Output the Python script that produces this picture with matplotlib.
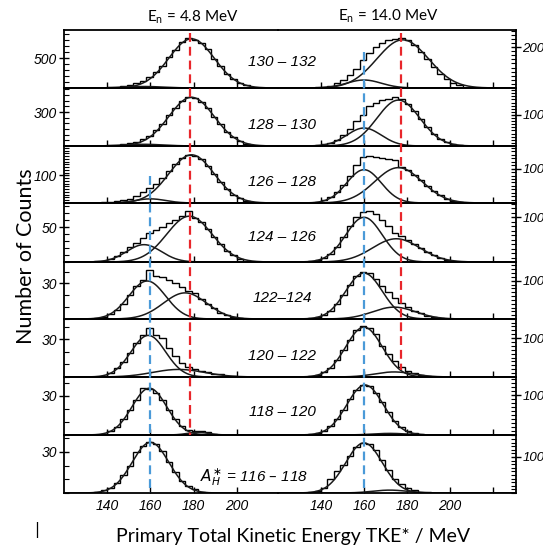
import numpy as np
import matplotlib
matplotlib.use("Agg")
import matplotlib.pyplot as plt
from matplotlib import transforms
from matplotlib.lines import Line2D
from matplotlib.ticker import FixedLocator, MultipleLocator

W, H = 543, 553

# histogram bins, 3 MeV wide
edges = np.arange(131, 207, 3)

row_labels = ["130 – 132", "128 – 130", "126 – 128", "124 – 126",
              "122–124", "120 – 122", "118 – 120", r"$A_H^{\ast}$ = 116 – 118"]

# En = 4.8 MeV (left column), counts per bin, top row first
hist_48 = [
    [2, 0, 5, 9, 18, 30, 50, 80, 120, 180, 265, 370, 515, 640, 760, 830, 805, 745, 645, 490, 360, 235, 150, 85, 45],
    [0, 1, 2, 5, 8, 14, 24, 38, 60, 92, 140, 198, 270, 335, 398, 432, 425, 390, 335, 258, 190, 128, 78, 45, 22],
    [0, 1, 2, 3, 6, 10, 16, 26, 40, 55, 70, 90, 115, 142, 165, 176, 172, 158, 135, 104, 78, 50, 30, 17, 8],
    [0, 1, 2, 5, 9, 15, 21, 28, 35, 42, 46, 51, 56, 60, 66, 74, 64, 57, 47, 36, 26, 16, 10, 5, 2],
    [0, 1, 2, 4, 8, 13, 20, 28, 33, 41, 36, 35, 33, 30, 27, 24, 22, 17, 13, 9, 5, 3, 2, 1, 0],
    [0, 0, 1, 3, 7, 12, 19, 27, 33, 39, 33, 31, 23, 17, 11, 8, 6, 5, 4, 2, 2, 1, 1, 0, 0],
    [0, 0, 1, 3, 6, 12, 19, 27, 36, 35, 32, 27, 19, 12, 7, 4, 3, 3, 2, 1, 0, 0, 0, 0, 0],
    [0, 1, 2, 4, 7, 13, 20, 30, 34, 37, 36, 31, 23, 15, 9, 5, 3, 1, 0, 0, 0, 0, 0, 0, 0],
]
# En = 14.0 MeV (right column)
hist_14 = [
    [0, 1, 3, 6, 12, 22, 38, 62, 95, 135, 170, 200, 220, 232, 240, 242, 232, 210, 178, 140, 102, 70, 44, 26, 14],
    [0, 1, 2, 5, 10, 20, 35, 55, 80, 100, 128, 138, 148, 152, 158, 150, 137, 112, 86, 60, 38, 22, 12, 6, 2],
    [0, 1, 3, 8, 17, 32, 52, 80, 110, 135, 137, 135, 132, 128, 126, 104, 96, 82, 66, 49, 34, 22, 13, 7, 3],
    [0, 2, 4, 9, 18, 33, 55, 80, 100, 112, 114, 108, 95, 80, 66, 58, 50, 41, 31, 22, 15, 9, 5, 3, 1],
    [0, 2, 5, 11, 22, 40, 62, 90, 112, 124, 120, 104, 85, 70, 56, 42, 32, 22, 15, 9, 5, 3, 1, 0, 0],
    [1, 2, 5, 12, 24, 44, 69, 96, 120, 130, 126, 110, 80, 58, 40, 26, 16, 10, 5, 3, 1, 1, 0, 0, 0],
    [1, 2, 5, 11, 22, 39, 62, 90, 113, 126, 122, 106, 82, 58, 36, 21, 11, 6, 3, 1, 0, 0, 0, 0, 0],
    [1, 2, 6, 14, 40, 62, 78, 104, 128, 140, 135, 118, 92, 64, 40, 24, 13, 8, 4, 2, 1, 0, 0, 0, 0],
]

# fitted gaussian components (centre MeV, sigma MeV, height)
comps_48 = [
    [(179, 10.5, 820), (157, 9, 25)],
    [(179, 10.5, 430), (157, 9, 15)],
    [(179, 10.5, 175), (160, 7, 15)],
    [(178, 10.5, 66), (157, 8, 25)],
    [(158.5, 8.5, 32), (176, 10, 22)],
    [(159, 8, 33), (173, 12, 6)],
    [(159.5, 8, 36), (182, 5, 2)],
    [(160, 8.5, 37)],
]
comps_14 = [
    [(178, 12, 235), (160, 8, 39)],
    [(176, 10, 148), (160, 8, 58)],
    [(160, 8, 97), (176, 11, 103)],
    [(160, 8.5, 100), (175, 11, 52)],
    [(160, 8.5, 120), (174, 10, 31)],
    [(160, 8.5, 128), (174, 9, 13)],
    [(160.5, 8.5, 125), (172, 8, 4)],
    [(160, 8.5, 139), (172, 8, 8)],
]

ymax_48 = [967, 512, 207, 85, 48, 46, 44.6, 42.4]
ymax_14 = [283, 187, 166, 132, 149, 149, 145, 161]
ymajor_48 = [500, 300, 100, 50, 30, 30, 30, 30]
yminor_48 = [100, 50, 10, 10, 10, 10, 10, 10]
ymajor_14 = [200, 100, 100, 100, 100, 100, 100, 100]
yminor_14 = [20, 10, 10, 10, 10, 10, 10, 10]

xticks_48 = [140, 160, 180, 200]
xticks_14 = [140, 160, 180, 200, 220]

peak_heavy_48 = 178.2   # red dashed, 4.8 MeV
peak_heavy_14 = 177.3   # red dashed, 14 MeV
peak_light = 160.0      # blue dashed

RED = "#e8262b"
BLUE = "#4a9ad8"

tops = [30, 88, 146, 203, 262, 319, 377, 435]
bottoms = [88, 146, 203, 262, 319, 377, 435, 493]
label_lift = [26, 21, 21, 25, 21, 21, 23, 16]
label_x = [282, 282, 282, 282, 282, 282, 282, 254]
x_left, x_mid, x_right = 64, 278, 516


def fx(px):
    return px / W


def fy(py):
    return 1 - py / H


def gauss(x, c, s, a):
    return a * np.exp(-0.5 * ((x - c) / s) ** 2)


plt.rcParams['font.family'] = ['Lato', 'DejaVu Sans']
tick_font = dict(family='Liberation Sans', style='italic', size=10)
rtick_font = dict(family='Liberation Sans', style='italic', size=9.5)

fig = plt.figure(figsize=(W / 100, H / 100), dpi=100)
xs = np.linspace(118, 232, 500)

left_axes, right_axes = [], []
for i in range(8):
    y0 = fy(bottoms[i])
    h = (bottoms[i] - tops[i]) / H
    axl = fig.add_axes([fx(x_left), y0, (x_mid - x_left) / W, h])
    axr = fig.add_axes([fx(x_mid), y0, (x_right - x_mid) / W, h])
    left_axes.append(axl)
    right_axes.append(axr)

    setup = [
        (axl, hist_48[i], comps_48[i], ymax_48[i], ymajor_48[i], yminor_48[i], 'left', 219, xticks_48),
        (axr, hist_14[i], comps_14[i], ymax_14[i], ymajor_14[i], yminor_14[i], 'right', 230.7, xticks_14),
    ]
    for ax, hist, comps, ymax, major, minor, side, xmax, xt in setup:
        ax.stairs(hist, edges, color='k', lw=1.0)
        for c, s, a in comps:
            ax.plot(xs, gauss(xs, c, s, a), color='#1a1a1a', lw=1.1)
        ax.set_xlim(120, xmax)
        ax.set_ylim(0, ymax)
        ax.patch.set_alpha(0)

        for sp in ax.spines.values():
            sp.set_linewidth(1.3)
        if side == 'left':
            ax.spines['right'].set_visible(False)
            ax.yaxis.tick_left()
        else:
            ax.spines['left'].set_visible(False)
            ax.yaxis.tick_right()

        ax.yaxis.set_major_locator(FixedLocator([major]))
        ax.yaxis.set_minor_locator(MultipleLocator(minor))
        ax.tick_params(axis='y', which='major', direction='inout', length=7, width=1,
                       pad=1.5 if side == 'left' else 1.0)
        ax.tick_params(axis='y', which='minor', direction='in', length=3.5, width=0.8)
        ax.set_yticklabels([str(major)], **(tick_font if side == 'left' else rtick_font))

        ax.xaxis.set_major_locator(FixedLocator(xt))
        ax.tick_params(axis='x', direction='in', length=4, width=1, pad=4,
                       labelbottom=(i == 7))
        if i == 7:
            ax.set_xticklabels([str(v) if v <= 200 else '' for v in xt], **tick_font)

    fig.text(fx(label_x[i]), fy(bottoms[i] - label_lift[i]), row_labels[i],
             ha='center', va='center', family='Liberation Sans', style='italic', size=11)


def dashed(ax, x, ytop, ybot, color):
    tr = transforms.blended_transform_factory(ax.transData, fig.transFigure)
    fig.add_artist(Line2D([x, x], [fy(ytop), fy(ybot)], transform=tr,
                          color=color, lw=1.6, dashes=(4, 2.2)))


dashed(left_axes[0], peak_heavy_48, 33, 435, RED)
dashed(right_axes[0], peak_heavy_14, 33, 370, RED)
dashed(left_axes[0], peak_light, 176, 493, BLUE)
dashed(right_axes[0], peak_light, 52, 493, BLUE)

fig.text(fx(193), fy(17), r"E$_\mathregular{n}$ = 4.8 MeV", ha='center', va='center', size=11)
fig.text(fx(388), fy(16), r"E$_\mathregular{n}$ = 14.0 MeV", ha='center', va='center', size=11)
fig.text(fx(26), fy(256), "Number of Counts", rotation=90, ha='center', va='center', size=15.5)
fig.text(fx(293), fy(542), "Primary Total Kinetic Energy TKE* / MeV", ha='center', va='baseline', size=14)
fig.text(fx(37), fy(530), "|", ha='center', va='center', size=11, family='DejaVu Sans')

fig.savefig("out.png", dpi=100)
